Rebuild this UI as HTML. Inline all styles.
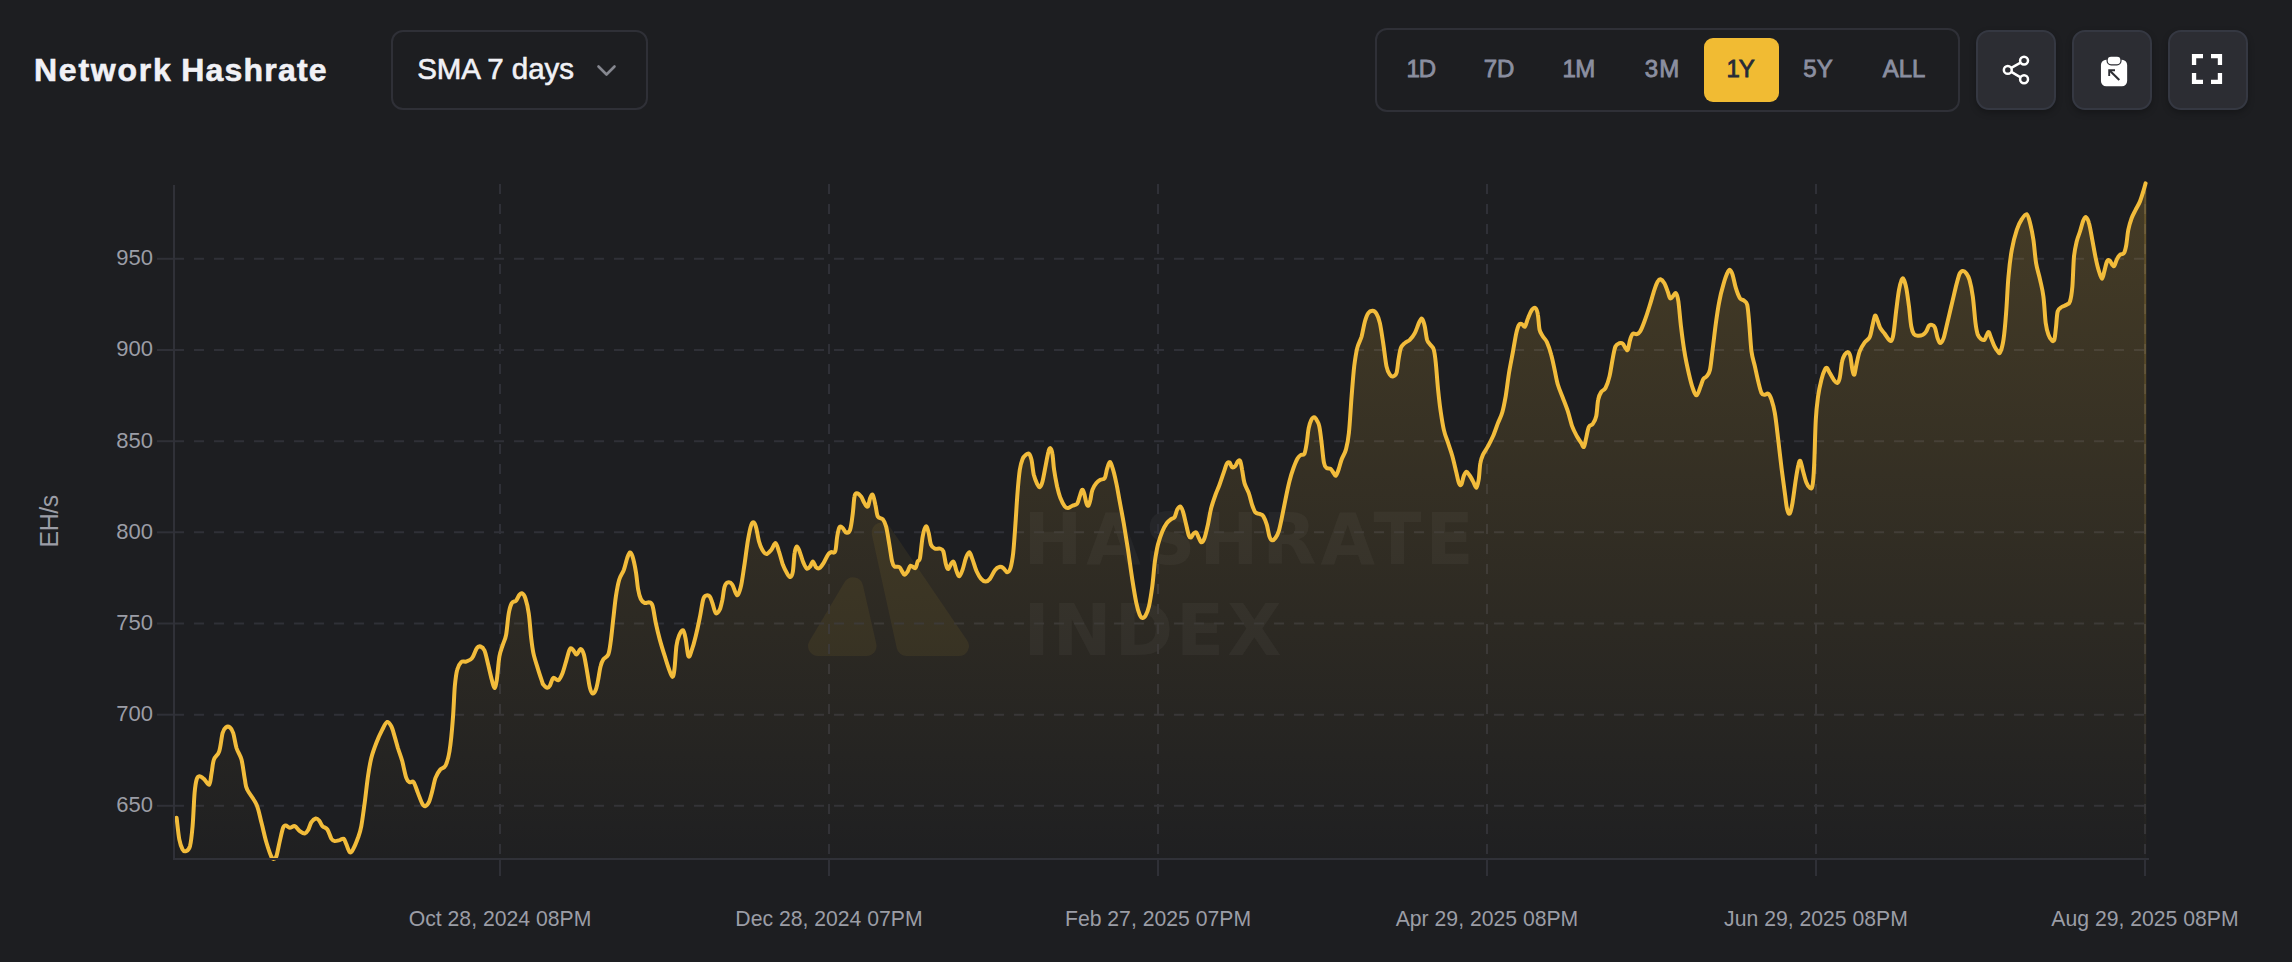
<!DOCTYPE html>
<html lang="en"><head><meta charset="utf-8"><title>Network Hashrate</title>
<style>
html,body{margin:0;padding:0;background:#1d1e21;}
body{width:2292px;height:962px;position:relative;overflow:hidden;font-family:"Liberation Sans",Arial,sans-serif;}
.chart{position:absolute;left:0;top:0;}
.chart text{font-family:"Liberation Sans",Arial,sans-serif;}
.tick{font-size:22px;fill:#9b9da6;}
.xl{font-size:21.2px;}
.ytitle{font-size:25px;letter-spacing:-0.5px;fill:#9b9da6;}
.title{position:absolute;left:34px;top:49px;font-size:32.5px;font-weight:700;color:#f1f1f6;line-height:44px;letter-spacing:1.1px;white-space:nowrap;}
.title{-webkit-text-stroke:0.6px #f1f1f6;font-size:32px;top:48.4px;}.w1{letter-spacing:1.75px;}.w2{letter-spacing:1.2px;position:absolute;left:147.3px;top:0;}
.select{position:absolute;left:391px;top:30px;width:253px;height:76px;border:2px solid #2f3037;border-radius:12px;}
.select span{position:absolute;left:24.2px;top:16.7px;font-size:29.5px;line-height:40px;color:#f1f1f6;letter-spacing:-0.08px;-webkit-text-stroke:0.6px #f1f1f6;white-space:nowrap;}
.select svg{position:absolute;left:198.5px;top:30px;}
.range{position:absolute;left:1375px;top:28px;width:581px;height:80px;border:2px solid #2f3037;border-radius:12px;}
.range div{position:absolute;top:8px;height:64px;line-height:62px;font-size:24px;color:#8b8fa0;text-align:center;white-space:nowrap;-webkit-text-stroke:0.8px #8b8fa0;}
.range div.on{background:#f1bb33;color:#262a38;border-radius:9px;-webkit-text-stroke:0.8px #262a38;}
.ib{position:absolute;top:30px;width:76px;height:76px;border:2px solid #353842;border-radius:13px;background:#2c2d33;box-shadow:0 3px 6px rgba(0,0,0,0.25);}
.ib svg{position:absolute;left:-2px;top:-2px;}
</style></head><body>
<svg class="chart" width="2292" height="962" viewBox="0 0 2292 962">
<defs>
<linearGradient id="g" x1="0" y1="185" x2="0" y2="859" gradientUnits="userSpaceOnUse">
<stop offset="0" stop-color="#f2bc3b" stop-opacity="0.19"/>
<stop offset="1" stop-color="#f2bc3b" stop-opacity="0.01"/>
</linearGradient>
<clipPath id="cp"><rect x="174" y="178" width="1976" height="683.5"/></clipPath>
</defs>
<g class="wm">
<path d="M844.6,582.1A10,10 0 0 1 862.9,585.0L876.3,643.8A10,10 0 0 1 866.6,656.0L818.1,656.0A10,10 0 0 1 809.5,640.9Z" fill="#f2bc3b" fill-opacity="0.065"/>
<path d="M871.8,534.5A10,10 0 0 1 889.8,526.8L967.2,640.4A10,10 0 0 1 959.0,656.0L906.4,656.0A10,10 0 0 1 896.7,648.1Z" fill="#f2bc3b" fill-opacity="0.065"/>
<text x="1023.5" y="564" font-size="70.4" font-weight="700" fill="#ffffff" fill-opacity="0.04" textLength="450" lengthAdjust="spacing" style="font-family:'DejaVu Sans',sans-serif">HASHRATE</text>
<text x="1023.5" y="655" font-size="70.4" font-weight="700" fill="#ffffff" fill-opacity="0.04" textLength="258" lengthAdjust="spacing" style="font-family:'DejaVu Sans',sans-serif">INDEX</text>
</g>
<line x1="157" y1="258.8" x2="174" y2="258.8" stroke="#2f3037" stroke-width="2"/>
<line x1="174" y1="258.8" x2="2146" y2="258.8" stroke="#2f3037" stroke-width="2" stroke-dasharray="10 10"/>
<text x="153" y="265.1" text-anchor="end" class="tick">950</text>
<line x1="157" y1="350" x2="174" y2="350" stroke="#2f3037" stroke-width="2"/>
<line x1="174" y1="350" x2="2146" y2="350" stroke="#2f3037" stroke-width="2" stroke-dasharray="10 10"/>
<text x="153" y="356.3" text-anchor="end" class="tick">900</text>
<line x1="157" y1="441.2" x2="174" y2="441.2" stroke="#2f3037" stroke-width="2"/>
<line x1="174" y1="441.2" x2="2146" y2="441.2" stroke="#2f3037" stroke-width="2" stroke-dasharray="10 10"/>
<text x="153" y="447.5" text-anchor="end" class="tick">850</text>
<line x1="157" y1="532.3" x2="174" y2="532.3" stroke="#2f3037" stroke-width="2"/>
<line x1="174" y1="532.3" x2="2146" y2="532.3" stroke="#2f3037" stroke-width="2" stroke-dasharray="10 10"/>
<text x="153" y="538.5999999999999" text-anchor="end" class="tick">800</text>
<line x1="157" y1="623.5" x2="174" y2="623.5" stroke="#2f3037" stroke-width="2"/>
<line x1="174" y1="623.5" x2="2146" y2="623.5" stroke="#2f3037" stroke-width="2" stroke-dasharray="10 10"/>
<text x="153" y="629.8" text-anchor="end" class="tick">750</text>
<line x1="157" y1="714.7" x2="174" y2="714.7" stroke="#2f3037" stroke-width="2"/>
<line x1="174" y1="714.7" x2="2146" y2="714.7" stroke="#2f3037" stroke-width="2" stroke-dasharray="10 10"/>
<text x="153" y="721.0" text-anchor="end" class="tick">700</text>
<line x1="157" y1="805.8" x2="174" y2="805.8" stroke="#2f3037" stroke-width="2"/>
<line x1="174" y1="805.8" x2="2146" y2="805.8" stroke="#2f3037" stroke-width="2" stroke-dasharray="10 10"/>
<text x="153" y="812.0999999999999" text-anchor="end" class="tick">650</text>
<line x1="500" y1="184" x2="500" y2="859" stroke="#2f3037" stroke-width="2" stroke-dasharray="10 10"/>
<line x1="500" y1="859" x2="500" y2="876" stroke="#2f3037" stroke-width="2"/>
<text x="500" y="926" text-anchor="middle" class="tick xl">Oct 28, 2024 08PM</text>
<line x1="829" y1="184" x2="829" y2="859" stroke="#2f3037" stroke-width="2" stroke-dasharray="10 10"/>
<line x1="829" y1="859" x2="829" y2="876" stroke="#2f3037" stroke-width="2"/>
<text x="829" y="926" text-anchor="middle" class="tick xl">Dec 28, 2024 07PM</text>
<line x1="1158" y1="184" x2="1158" y2="859" stroke="#2f3037" stroke-width="2" stroke-dasharray="10 10"/>
<line x1="1158" y1="859" x2="1158" y2="876" stroke="#2f3037" stroke-width="2"/>
<text x="1158" y="926" text-anchor="middle" class="tick xl">Feb 27, 2025 07PM</text>
<line x1="1487" y1="184" x2="1487" y2="859" stroke="#2f3037" stroke-width="2" stroke-dasharray="10 10"/>
<line x1="1487" y1="859" x2="1487" y2="876" stroke="#2f3037" stroke-width="2"/>
<text x="1487" y="926" text-anchor="middle" class="tick xl">Apr 29, 2025 08PM</text>
<line x1="1816" y1="184" x2="1816" y2="859" stroke="#2f3037" stroke-width="2" stroke-dasharray="10 10"/>
<line x1="1816" y1="859" x2="1816" y2="876" stroke="#2f3037" stroke-width="2"/>
<text x="1816" y="926" text-anchor="middle" class="tick xl">Jun 29, 2025 08PM</text>
<line x1="2145" y1="184" x2="2145" y2="859" stroke="#2f3037" stroke-width="2" stroke-dasharray="10 10"/>
<line x1="2145" y1="859" x2="2145" y2="876" stroke="#2f3037" stroke-width="2"/>
<text x="2145" y="926" text-anchor="middle" class="tick xl">Aug 29, 2025 08PM</text>
<path d="M176.6,817.8C177.1,821.4 178.3,834.2 179.3,839.4C180.3,844.7 181.5,847.5 182.6,849.4C183.7,851.4 184.7,851.6 186.0,851.1C187.2,850.5 188.8,850.3 190.0,846.1C191.1,841.9 191.8,835.0 192.6,826.1C193.4,817.3 193.9,800.6 194.6,792.9C195.3,785.1 195.8,782.3 196.6,779.6C197.4,776.8 198.0,776.3 199.3,776.2C200.5,776.1 202.3,777.5 203.9,778.9C205.6,780.3 208.0,785.5 209.3,784.6C210.5,783.6 210.8,777.1 211.6,772.9C212.4,768.7 212.6,763.2 213.9,759.6C215.2,756.0 217.8,755.7 219.2,751.3C220.7,746.8 221.5,737.0 222.6,733.0C223.7,729.0 224.7,728.3 225.9,727.4C227.1,726.5 228.7,726.5 229.9,727.4C231.1,728.3 232.1,729.6 233.2,733.0C234.3,736.4 235.2,743.5 236.5,748.0C237.9,752.4 240.1,754.3 241.5,759.6C242.9,764.9 243.9,774.6 244.9,779.6C245.8,784.6 245.2,785.4 247.2,789.5C249.1,793.7 254.1,799.0 256.5,804.5C258.9,810.1 259.8,816.4 261.5,822.8C263.2,829.2 264.8,837.1 266.5,842.8C268.2,848.5 270.2,854.4 271.5,857.0C272.8,859.7 273.3,858.8 274.1,858.7C275.0,858.5 275.5,858.9 276.5,856.0C277.4,853.1 278.7,845.8 279.8,841.1C280.9,836.4 282.1,830.4 283.1,827.8C284.1,825.2 284.7,825.5 285.8,825.5C286.9,825.5 288.3,827.7 289.8,827.8C291.3,827.9 293.1,825.6 294.8,826.1C296.4,826.7 298.1,829.9 299.8,831.1C301.4,832.3 303.4,833.6 304.8,833.5C306.1,833.3 307.0,832.0 308.1,830.1C309.2,828.2 310.1,824.1 311.4,822.1C312.7,820.2 314.5,818.8 315.7,818.5C317.0,818.2 318.0,819.2 319.1,820.5C320.2,821.8 321.0,824.6 322.4,826.1C323.8,827.6 325.9,827.4 327.4,829.5C328.9,831.6 330.2,836.8 331.4,838.8C332.6,840.7 333.3,840.9 334.7,841.1C336.1,841.3 338.2,840.5 339.7,840.1C341.2,839.7 342.6,838.1 343.7,838.8C344.8,839.5 345.4,842.2 346.4,844.4C347.4,846.6 348.6,851.3 349.7,852.1C350.8,852.9 351.6,851.8 353.0,849.4C354.4,847.0 356.6,841.7 358.0,837.8C359.4,833.9 360.2,832.0 361.3,826.1C362.4,820.3 363.5,811.2 364.7,802.8C365.8,794.5 366.9,783.7 368.0,776.2C369.1,768.7 369.9,763.5 371.3,757.9C372.7,752.4 374.5,747.7 376.3,743.0C378.1,738.3 380.5,733.2 382.3,729.7C384.1,726.2 385.5,722.6 387.0,722.0C388.5,721.5 390.0,723.9 391.3,726.3C392.6,728.7 393.5,732.7 394.6,736.3C395.7,739.9 396.7,743.8 397.9,748.0C399.2,752.1 400.9,756.3 402.3,761.3C403.6,766.3 405.0,774.4 406.3,777.9C407.5,781.4 408.4,781.5 409.6,782.2C410.8,782.9 412.2,780.4 413.6,782.2C415.0,784.0 416.5,789.3 417.9,792.9C419.3,796.4 421.0,801.3 422.2,803.5C423.4,805.7 424.1,806.4 425.2,806.2C426.3,806.0 427.7,804.7 428.9,802.2C430.0,799.7 431.1,795.3 432.2,791.2C433.3,787.2 434.2,781.5 435.5,777.9C436.9,774.3 438.5,771.6 440.2,769.6C441.9,767.5 444.0,768.6 445.5,765.6C447.1,762.5 448.3,758.9 449.5,751.3C450.7,743.6 452.0,730.5 452.8,719.7C453.7,708.9 454.1,694.7 454.8,686.4C455.6,678.1 456.1,673.8 457.2,669.8C458.2,665.7 459.7,663.5 461.2,662.1C462.7,660.7 464.3,662.1 466.2,661.5C468.0,660.8 470.4,660.4 472.1,658.1C473.9,655.9 475.4,650.1 476.8,648.2C478.2,646.2 479.2,646.1 480.5,646.5C481.7,646.9 483.2,647.7 484.5,650.5C485.7,653.3 486.6,658.2 487.8,663.1C489.0,668.0 490.7,675.6 491.8,679.8C492.9,683.9 493.6,688.1 494.4,688.1C495.3,688.1 495.9,685.0 496.8,679.8C497.6,674.5 498.4,662.3 499.4,656.5C500.4,650.7 501.7,648.4 502.8,644.8C503.9,641.2 505.1,640.1 506.1,634.9C507.1,629.6 507.8,618.5 508.8,613.2C509.7,608.0 510.5,605.4 511.7,603.2C513.0,601.1 514.8,602.0 516.1,600.6C517.3,599.2 518.4,596.1 519.4,594.9C520.4,593.7 521.1,592.7 522.1,593.3C523.1,593.8 524.3,594.9 525.4,598.3C526.5,601.6 527.8,606.9 528.7,613.2C529.7,619.6 530.3,629.9 531.0,636.5C531.8,643.2 532.3,647.9 533.4,653.1C534.5,658.4 536.3,663.4 537.7,668.1C539.1,672.8 541.1,678.7 542.0,681.4C543.0,684.2 542.4,683.4 543.3,684.5C544.2,685.6 546.2,687.7 547.3,687.8C548.4,688.0 549.0,687.2 550.0,685.5C551.0,683.8 551.9,678.7 553.3,677.9C554.7,677.0 556.7,681.0 558.3,680.2C559.9,679.4 561.2,676.3 562.6,672.9C564.0,669.4 565.4,663.6 566.6,659.6C567.8,655.6 568.8,650.5 570.0,648.9C571.1,647.4 572.2,649.3 573.3,650.2C574.4,651.2 575.4,654.8 576.6,654.6C577.8,654.3 579.4,648.9 580.6,648.9C581.8,648.9 582.8,650.6 583.9,654.6C585.0,658.6 586.3,667.3 587.3,672.9C588.3,678.4 589.0,684.4 589.9,687.8C590.8,691.3 591.6,693.2 592.6,693.5C593.6,693.8 595.0,691.8 595.9,689.5C596.8,687.2 597.5,683.4 598.2,679.5C599.0,675.6 599.7,669.5 600.6,666.2C601.4,662.9 602.0,661.5 603.2,659.6C604.5,657.6 607.0,657.3 608.2,654.6C609.4,651.8 609.7,648.7 610.5,642.9C611.4,637.1 612.3,627.4 613.2,619.6C614.1,611.9 614.9,603.0 615.9,596.4C616.9,589.7 617.9,584.2 619.2,579.7C620.5,575.3 622.5,573.3 623.9,569.7C625.2,566.1 626.2,561.0 627.2,558.1C628.2,555.2 629.0,552.7 629.9,552.4C630.7,552.2 631.5,553.3 632.5,556.4C633.5,559.6 634.9,565.9 635.8,571.4C636.8,576.9 637.3,585.1 638.2,589.7C639.0,594.3 639.7,596.8 640.8,599.0C641.9,601.2 643.4,602.5 644.8,603.0C646.2,603.6 647.9,601.9 649.2,602.3C650.4,602.8 651.4,602.2 652.5,605.7C653.6,609.1 654.6,617.3 655.8,623.0C657.0,628.6 658.3,634.1 659.8,639.6C661.3,645.1 663.2,651.2 664.8,656.2C666.3,661.2 667.8,666.1 669.1,669.5C670.4,673.0 671.6,676.9 672.4,676.9C673.3,676.9 673.8,674.6 674.4,669.5C675.1,664.4 675.7,651.9 676.4,646.3C677.2,640.6 678.0,638.3 679.1,635.6C680.2,632.9 682.0,629.6 683.1,630.3C684.2,631.0 684.9,635.3 685.8,639.6C686.6,643.9 687.5,654.3 688.4,656.2C689.4,658.2 690.2,654.6 691.4,651.2C692.6,647.9 694.4,641.8 695.7,636.3C697.1,630.7 698.5,624.1 699.7,618.0C701.0,611.9 702.1,603.4 703.1,599.7C704.1,596.0 704.6,596.2 705.7,595.7C706.8,595.1 708.6,595.1 709.7,596.4C710.8,597.6 711.4,600.2 712.4,603.0C713.4,605.8 714.5,611.9 715.7,613.0C716.9,614.1 718.6,611.9 719.7,609.7C720.8,607.4 721.5,603.6 722.4,599.7C723.2,595.8 723.7,589.3 724.7,586.4C725.6,583.5 726.7,582.7 728.0,582.4C729.3,582.1 731.1,582.9 732.3,584.7C733.6,586.5 734.7,591.4 735.7,593.0C736.6,594.7 737.1,596.1 738.0,594.7C738.9,593.3 740.2,590.0 741.3,584.7C742.4,579.4 743.5,570.6 744.7,563.1C745.8,555.6 746.9,546.2 748.0,539.8C749.1,533.4 750.3,527.7 751.3,524.8C752.3,521.9 753.1,521.9 754.0,522.5C754.8,523.1 755.5,525.0 756.3,528.2C757.1,531.3 758.0,537.9 759.0,541.5C760.0,545.1 761.1,547.7 762.3,549.8C763.5,551.9 764.8,554.1 766.3,554.1C767.8,554.1 769.7,551.6 771.3,549.8C772.8,548.0 774.3,542.8 775.6,543.1C776.9,543.4 777.7,547.8 778.9,551.4C780.2,555.0 781.6,561.1 782.9,564.8C784.3,568.4 785.7,571.0 786.9,573.1C788.1,575.1 789.3,577.3 790.2,577.1C791.2,576.8 792.2,575.4 792.9,571.4C793.6,567.4 793.9,557.3 794.6,553.1C795.2,548.9 796.1,546.7 796.9,546.5C797.7,546.2 798.5,548.7 799.6,551.4C800.7,554.2 802.3,560.2 803.6,563.1C804.8,566.0 805.8,568.2 806.9,568.7C808.0,569.3 809.2,567.6 810.2,566.4C811.2,565.2 811.9,561.3 812.9,561.4C813.9,561.6 815.1,566.3 816.2,567.4C817.3,568.5 818.3,568.8 819.5,568.1C820.8,567.4 822.1,565.3 823.5,563.1C824.9,560.9 826.6,556.6 827.9,554.8C829.1,552.9 830.0,552.7 831.2,552.1C832.4,551.6 834.2,554.0 835.2,551.4C836.2,548.8 836.5,540.5 837.2,536.5C837.9,532.4 838.6,528.5 839.5,527.2C840.4,525.8 841.7,527.3 842.8,528.2C843.9,529.0 844.9,532.2 846.2,532.5C847.4,532.8 849.0,533.0 850.1,529.8C851.3,526.6 852.1,518.7 852.8,513.2C853.5,507.6 853.8,499.9 854.5,496.6C855.1,493.2 855.7,493.2 856.8,493.2C857.9,493.2 859.9,494.9 861.1,496.6C862.4,498.2 863.3,501.5 864.5,503.2C865.6,504.9 866.8,507.4 867.8,506.5C868.7,505.7 869.3,500.2 870.1,498.2C870.9,496.3 871.9,493.8 872.8,494.9C873.7,496.0 874.6,501.3 875.4,504.9C876.3,508.5 876.6,514.1 877.8,516.5C879.0,518.9 881.4,517.5 882.8,519.2C884.1,520.8 885.0,522.2 886.1,526.5C887.2,530.8 888.4,539.0 889.4,544.8C890.4,550.6 891.2,557.8 892.1,561.4C892.9,565.0 893.2,565.5 894.4,566.4C895.6,567.4 898.1,566.2 899.4,567.1C900.7,567.9 901.2,570.1 902.1,571.4C902.9,572.7 903.4,574.7 904.4,574.7C905.3,574.7 906.7,572.9 907.7,571.4C908.7,569.9 909.1,566.3 910.4,565.7C911.7,565.2 914.2,568.8 915.4,568.1C916.6,567.4 916.9,563.1 917.7,561.4C918.5,559.7 919.2,562.2 920.0,558.0C920.8,553.8 921.7,541.6 922.7,536.4C923.7,531.1 925.0,526.9 926.0,526.4C927.0,525.8 927.8,530.0 928.7,533.0C929.5,536.1 929.9,542.1 931.0,544.7C932.0,547.3 933.5,548.0 935.0,548.7C936.5,549.3 938.6,548.2 940.0,548.7C941.4,549.1 942.3,548.7 943.3,551.3C944.3,554.0 945.1,561.7 946.0,564.6C946.8,567.6 947.3,569.2 948.3,569.0C949.2,568.7 950.7,564.1 951.6,563.0C952.6,561.9 953.1,560.9 953.9,562.3C954.8,563.7 955.7,569.0 956.6,571.3C957.5,573.6 958.3,576.6 959.3,576.3C960.3,576.0 961.5,572.7 962.6,569.6C963.7,566.6 964.8,560.9 965.9,558.0C967.0,555.1 968.1,552.0 969.3,552.3C970.4,552.6 971.4,556.5 972.6,559.6C973.8,562.8 975.2,568.1 976.6,571.3C978.0,574.4 979.4,576.9 980.9,578.6C982.4,580.3 984.1,581.5 985.6,581.6C987.1,581.7 988.3,580.8 989.9,578.9C991.4,577.1 993.3,572.3 994.9,570.3C996.4,568.3 997.8,567.3 999.2,567.0C1000.6,566.6 1001.9,567.1 1003.2,568.0C1004.5,568.8 1006.0,572.3 1007.2,572.3C1008.4,572.3 1009.5,571.2 1010.5,568.0C1011.5,564.7 1012.3,560.5 1013.2,553.0C1014.0,545.5 1014.8,533.0 1015.5,523.0C1016.2,513.1 1016.8,502.0 1017.5,493.1C1018.2,484.2 1019.0,475.5 1019.8,469.8C1020.7,464.2 1021.5,461.7 1022.5,459.2C1023.5,456.7 1024.7,455.7 1025.8,454.9C1026.9,454.0 1028.2,453.0 1029.2,453.9C1030.1,454.7 1030.7,456.3 1031.5,459.8C1032.3,463.3 1032.9,470.8 1033.8,474.8C1034.8,478.8 1036.1,481.7 1037.1,483.8C1038.1,485.8 1038.9,487.5 1039.8,487.1C1040.7,486.7 1041.5,485.2 1042.5,481.5C1043.5,477.7 1044.8,469.8 1045.8,464.8C1046.8,459.8 1047.7,454.3 1048.5,451.5C1049.2,448.8 1049.8,447.8 1050.4,448.2C1051.1,448.6 1051.8,450.2 1052.4,453.9C1053.1,457.5 1053.3,464.4 1054.1,469.8C1054.9,475.3 1056.1,481.7 1057.1,486.5C1058.2,491.2 1059.2,494.8 1060.4,498.1C1061.7,501.4 1063.5,504.8 1064.8,506.4C1066.0,508.1 1066.8,508.2 1068.1,508.1C1069.4,508.0 1070.9,506.5 1072.4,505.7C1073.9,505.0 1075.9,505.3 1077.1,503.8C1078.3,502.2 1078.9,498.8 1079.7,496.4C1080.6,494.1 1081.3,490.3 1082.1,489.8C1082.8,489.2 1083.3,490.9 1084.1,493.1C1084.8,495.3 1085.7,501.0 1086.4,503.1C1087.1,505.2 1087.7,506.3 1088.4,505.7C1089.1,505.2 1089.7,502.4 1090.4,499.8C1091.0,497.1 1091.4,492.6 1092.4,489.8C1093.4,487.0 1095.0,484.8 1096.4,483.1C1097.7,481.5 1099.0,480.6 1100.4,479.8C1101.8,479.0 1103.6,479.9 1104.7,478.1C1105.8,476.4 1106.2,471.8 1107.0,469.2C1107.9,466.5 1108.8,462.5 1109.7,462.2C1110.6,461.8 1111.2,463.7 1112.3,467.2C1113.5,470.7 1115.1,477.4 1116.3,483.1C1117.6,488.8 1118.4,494.8 1119.7,501.4C1120.9,508.1 1122.3,515.0 1123.7,523.0C1125.0,531.1 1126.5,540.2 1128.0,549.7C1129.4,559.1 1130.9,570.7 1132.3,579.6C1133.7,588.5 1135.1,597.1 1136.3,602.9C1137.5,608.7 1138.6,612.0 1139.6,614.5C1140.6,617.0 1141.3,617.7 1142.3,617.9C1143.3,618.0 1144.5,617.5 1145.6,615.5C1146.7,613.6 1147.8,611.1 1149.0,606.2C1150.1,601.3 1151.3,593.7 1152.3,586.3C1153.3,578.8 1154.0,568.2 1154.9,561.3C1155.9,554.4 1156.7,549.7 1157.9,544.7C1159.2,539.7 1160.8,535.0 1162.3,531.4C1163.8,527.8 1165.4,525.1 1166.9,523.0C1168.4,521.0 1170.0,520.1 1171.2,519.1C1172.5,518.1 1173.6,518.6 1174.6,517.1C1175.6,515.5 1176.3,511.5 1177.2,509.7C1178.2,508.0 1179.3,506.1 1180.2,506.4C1181.2,506.7 1181.9,508.4 1182.9,511.4C1183.9,514.5 1185.2,520.7 1186.2,524.7C1187.2,528.8 1188.1,533.6 1188.9,535.7C1189.7,537.8 1190.4,537.7 1191.2,537.4C1192.0,537.0 1192.7,534.5 1193.5,533.7C1194.4,532.9 1195.3,531.6 1196.2,532.4C1197.1,533.1 1198.0,536.4 1198.9,538.0C1199.8,539.7 1200.6,542.3 1201.5,542.3C1202.5,542.3 1203.5,541.0 1204.5,538.0C1205.6,535.1 1206.7,529.7 1207.9,524.7C1209.0,519.7 1209.9,513.1 1211.2,508.1C1212.5,503.1 1214.1,498.7 1215.5,494.8C1216.9,490.9 1218.2,488.4 1219.5,484.8C1220.8,481.2 1222.3,476.6 1223.5,473.1C1224.7,469.7 1225.8,465.6 1226.8,463.8C1227.8,462.1 1228.6,461.9 1229.5,462.5C1230.4,463.1 1231.1,466.6 1232.1,467.2C1233.1,467.7 1234.5,466.8 1235.5,465.8C1236.4,464.9 1237.0,462.3 1237.8,461.5C1238.6,460.7 1239.4,459.5 1240.1,460.8C1240.9,462.2 1241.4,466.1 1242.1,469.8C1242.9,473.5 1243.3,479.2 1244.5,483.1C1245.6,487.0 1247.5,489.5 1248.8,493.1C1250.1,496.7 1251.0,501.5 1252.1,504.8C1253.2,508.0 1254.1,510.8 1255.4,512.4C1256.8,514.0 1258.8,513.4 1260.1,514.1C1261.4,514.7 1262.3,514.6 1263.4,516.4C1264.5,518.2 1265.8,521.4 1266.8,524.7C1267.8,528.0 1268.5,533.7 1269.4,536.4C1270.3,539.0 1271.1,540.1 1272.1,540.3C1273.1,540.6 1274.3,539.5 1275.4,538.0C1276.5,536.5 1277.6,535.0 1278.7,531.4C1279.8,527.8 1281.0,521.7 1282.1,516.4C1283.2,511.1 1284.2,505.6 1285.4,499.8C1286.6,493.9 1288.1,486.7 1289.4,481.5C1290.7,476.2 1292.0,472.0 1293.4,468.2C1294.8,464.3 1296.4,460.4 1297.7,458.2C1299.0,456.0 1299.9,455.6 1301.0,454.9C1302.1,454.1 1303.4,455.8 1304.4,453.9C1305.3,451.9 1306.0,447.5 1306.7,443.2C1307.4,438.9 1307.9,432.1 1308.7,428.2C1309.5,424.4 1310.4,421.7 1311.3,419.9C1312.3,418.1 1313.4,417.1 1314.3,417.3C1315.3,417.4 1316.2,419.1 1317.0,420.6C1317.8,422.1 1318.5,422.6 1319.3,426.3C1320.1,430.0 1320.9,436.8 1321.6,442.9C1322.4,449.0 1323.1,458.7 1324.0,462.9C1324.8,467.0 1325.5,466.9 1326.6,467.9C1327.7,468.9 1329.4,467.9 1330.6,468.9C1331.8,469.8 1333.1,472.4 1333.9,473.5C1334.8,474.6 1335.2,476.2 1335.9,475.5C1336.7,474.8 1337.7,472.2 1338.6,469.5C1339.5,466.9 1340.4,462.9 1341.6,459.5C1342.8,456.2 1344.7,454.0 1345.9,449.6C1347.1,445.1 1348.0,441.8 1348.9,432.9C1349.9,424.1 1350.7,407.4 1351.6,396.3C1352.5,385.2 1353.3,374.4 1354.2,366.4C1355.2,358.4 1356.0,353.1 1357.2,348.1C1358.5,343.1 1360.3,340.9 1361.6,336.5C1362.8,332.0 1363.8,325.4 1364.9,321.5C1366.0,317.6 1366.9,314.9 1368.2,313.2C1369.5,311.4 1371.2,310.7 1372.5,310.8C1373.9,310.9 1375.3,311.8 1376.5,313.8C1377.8,315.9 1378.8,318.3 1379.9,323.1C1381.0,328.0 1382.1,335.9 1383.2,343.1C1384.3,350.3 1385.4,361.1 1386.5,366.4C1387.6,371.7 1388.7,373.0 1389.9,374.7C1391.0,376.4 1392.1,376.7 1393.2,376.4C1394.3,376.1 1395.6,375.8 1396.5,373.0C1397.4,370.3 1397.8,363.9 1398.5,359.7C1399.2,355.6 1399.8,350.9 1400.8,348.1C1401.9,345.3 1403.3,344.5 1404.8,343.1C1406.3,341.7 1408.2,341.4 1409.8,339.8C1411.5,338.1 1413.3,336.0 1414.8,333.1C1416.4,330.2 1417.9,324.9 1419.1,322.5C1420.4,320.1 1421.2,318.2 1422.1,318.8C1423.1,319.5 1424.0,323.0 1424.8,326.5C1425.6,330.0 1426.2,336.7 1427.1,339.8C1428.1,342.8 1429.3,343.1 1430.4,344.8C1431.6,346.4 1432.9,346.7 1433.8,349.8C1434.7,352.8 1435.1,356.4 1435.8,363.1C1436.5,369.7 1437.3,381.9 1438.1,389.7C1438.9,397.4 1439.5,403.0 1440.4,409.6C1441.4,416.3 1442.5,424.1 1443.8,429.6C1445.0,435.1 1446.6,438.5 1448.1,442.9C1449.5,447.3 1451.0,451.2 1452.4,456.2C1453.8,461.2 1455.3,468.3 1456.4,472.8C1457.5,477.4 1458.2,481.6 1459.1,483.5C1459.9,485.4 1460.6,485.7 1461.4,484.5C1462.2,483.3 1462.9,478.3 1463.7,476.2C1464.6,474.1 1465.4,472.0 1466.4,471.8C1467.4,471.7 1468.6,474.0 1469.7,475.5C1470.8,477.1 1471.9,479.1 1473.0,481.2C1474.2,483.2 1475.4,488.1 1476.4,487.8C1477.3,487.5 1478.0,483.7 1478.7,479.5C1479.4,475.3 1479.6,467.0 1480.4,462.9C1481.1,458.7 1481.8,457.3 1483.0,454.6C1484.3,451.8 1486.4,449.3 1488.0,446.2C1489.7,443.2 1491.3,440.1 1493.0,436.3C1494.7,432.4 1496.5,426.9 1498.0,422.9C1499.6,419.0 1501.1,416.7 1502.3,412.3C1503.6,407.9 1504.5,402.9 1505.7,396.3C1506.8,389.8 1507.8,380.5 1509.0,373.0C1510.2,365.6 1511.8,358.1 1513.0,351.4C1514.2,344.8 1515.3,337.6 1516.3,333.1C1517.3,328.7 1518.0,326.3 1519.0,324.8C1519.9,323.3 1521.0,323.9 1522.0,324.1C1523.0,324.4 1524.0,327.5 1525.0,326.5C1526.0,325.5 1526.8,320.9 1528.0,318.2C1529.1,315.4 1530.7,311.5 1531.9,309.8C1533.2,308.2 1534.6,307.3 1535.6,308.2C1536.6,309.0 1537.3,311.2 1537.9,314.8C1538.6,318.4 1538.8,326.2 1539.6,329.8C1540.4,333.4 1541.7,334.4 1542.9,336.5C1544.1,338.5 1545.5,339.1 1546.9,342.1C1548.3,345.2 1550.0,350.1 1551.2,354.8C1552.5,359.4 1553.5,364.7 1554.6,369.7C1555.7,374.7 1556.5,380.0 1557.9,384.7C1559.3,389.4 1561.2,393.6 1562.9,398.0C1564.6,402.4 1566.3,406.6 1567.9,411.3C1569.4,416.0 1570.7,422.1 1572.2,426.3C1573.7,430.4 1575.4,433.5 1576.9,436.3C1578.4,439.0 1580.0,441.1 1581.2,442.9C1582.4,444.7 1583.0,447.7 1583.9,446.9C1584.7,446.1 1585.4,441.2 1586.2,437.9C1587.0,434.6 1587.7,429.3 1588.9,426.9C1590.0,424.6 1591.6,425.7 1592.8,423.9C1594.1,422.2 1595.3,420.3 1596.2,416.3C1597.1,412.2 1597.3,403.7 1598.2,399.7C1599.0,395.6 1599.9,393.9 1601.2,392.0C1602.4,390.1 1604.1,390.6 1605.5,388.0C1606.9,385.4 1608.3,381.4 1609.5,376.4C1610.7,371.4 1611.8,363.1 1612.8,358.1C1613.8,353.1 1614.4,348.9 1615.5,346.4C1616.6,343.9 1618.2,343.6 1619.5,343.1C1620.7,342.7 1621.8,342.9 1622.8,343.8C1623.8,344.6 1624.6,347.1 1625.5,348.1C1626.3,349.1 1627.0,351.1 1627.8,349.8C1628.6,348.4 1629.3,342.4 1630.1,339.8C1630.9,337.1 1631.7,334.7 1632.8,333.8C1633.9,332.8 1635.6,334.5 1636.8,334.1C1638.0,333.7 1638.8,333.6 1640.1,331.5C1641.4,329.4 1642.9,325.6 1644.4,321.5C1646.0,317.3 1647.8,311.8 1649.4,306.5C1651.1,301.2 1653.0,294.0 1654.4,289.9C1655.8,285.7 1656.7,283.3 1657.7,281.6C1658.7,279.8 1659.3,279.0 1660.4,279.2C1661.5,279.5 1663.2,281.2 1664.4,283.2C1665.6,285.3 1666.8,289.0 1667.7,291.5C1668.7,294.0 1669.2,297.4 1670.0,298.2C1670.9,299.0 1671.7,297.4 1672.7,296.5C1673.7,295.7 1675.1,292.4 1676.0,293.2C1677.0,294.0 1677.5,296.0 1678.4,301.5C1679.2,307.1 1680.0,318.2 1681.0,326.5C1682.0,334.8 1683.1,343.7 1684.4,351.4C1685.6,359.2 1687.3,366.9 1688.7,373.0C1690.1,379.1 1691.3,384.3 1692.7,388.0C1694.0,391.7 1695.3,395.6 1696.7,395.3C1698.0,395.1 1699.5,389.1 1700.6,386.3C1701.7,383.6 1702.3,380.7 1703.3,379.0C1704.3,377.4 1705.5,377.9 1706.6,376.4C1707.7,374.8 1709.0,374.1 1710.0,369.7C1710.9,365.3 1711.6,357.5 1712.6,349.7C1713.6,342.0 1714.8,331.2 1715.9,323.1C1717.0,315.1 1718.0,307.9 1719.3,301.5C1720.5,295.1 1721.9,289.6 1723.3,284.9C1724.6,280.2 1726.1,275.7 1727.3,273.2C1728.4,270.7 1729.0,269.6 1729.9,269.9C1730.8,270.2 1731.6,271.8 1732.6,274.9C1733.6,277.9 1734.7,284.3 1735.9,288.2C1737.1,292.1 1738.6,296.1 1739.9,298.2C1741.2,300.2 1742.7,299.4 1743.9,300.5C1745.1,301.6 1746.3,301.1 1747.2,304.8C1748.1,308.6 1748.5,315.4 1749.2,323.1C1749.9,330.9 1750.6,344.2 1751.5,351.4C1752.5,358.6 1753.8,361.4 1754.9,366.4C1756.0,371.4 1757.1,376.9 1758.2,381.3C1759.3,385.8 1760.4,390.8 1761.5,393.0C1762.6,395.2 1763.7,394.5 1764.9,394.7C1766.0,394.8 1767.1,392.8 1768.2,393.7C1769.3,394.5 1770.4,396.4 1771.5,399.6C1772.6,402.9 1773.7,406.3 1774.8,412.9C1776.0,419.6 1777.1,430.4 1778.2,439.6C1779.3,448.7 1780.4,459.0 1781.5,467.8C1782.6,476.7 1783.9,485.9 1784.8,492.8C1785.8,499.7 1786.3,506.0 1787.2,509.4C1788.0,512.9 1788.9,514.5 1789.8,513.4C1790.7,512.3 1791.5,508.4 1792.5,502.8C1793.5,497.1 1794.8,485.9 1795.8,479.5C1796.8,473.1 1797.7,467.6 1798.5,464.5C1799.2,461.5 1799.7,460.1 1800.5,461.2C1801.2,462.3 1802.1,467.6 1803.1,471.2C1804.1,474.8 1805.3,480.0 1806.5,482.8C1807.6,485.6 1808.8,487.2 1809.8,487.8C1810.8,488.4 1811.7,489.7 1812.4,486.1C1813.2,482.5 1813.6,477.3 1814.1,466.2C1814.7,455.1 1815.1,431.2 1815.8,419.6C1816.4,408.0 1817.2,403.0 1818.1,396.3C1819.0,389.7 1820.3,384.1 1821.4,379.7C1822.5,375.2 1823.8,371.6 1824.8,369.7C1825.7,367.8 1826.3,367.5 1827.1,368.0C1827.9,368.6 1828.6,371.1 1829.8,373.0C1830.9,375.0 1832.5,378.0 1833.7,379.7C1835.0,381.3 1836.1,383.3 1837.1,383.0C1838.1,382.7 1838.9,381.6 1839.7,378.0C1840.6,374.4 1841.2,365.3 1842.1,361.4C1842.9,357.5 1843.7,356.3 1844.7,354.7C1845.7,353.2 1847.1,351.8 1848.1,352.1C1849.0,352.3 1849.7,353.5 1850.4,356.4C1851.1,359.3 1851.7,366.7 1852.4,369.7C1853.0,372.8 1853.7,375.5 1854.4,374.7C1855.0,373.9 1855.5,368.6 1856.4,364.7C1857.3,360.8 1858.3,355.1 1859.7,351.4C1861.1,347.7 1863.0,344.8 1864.7,342.4C1866.4,340.0 1868.4,339.8 1869.7,337.1C1871.0,334.4 1871.5,330.0 1872.3,326.5C1873.2,322.9 1874.2,316.9 1875.0,315.8C1875.8,314.7 1876.5,317.7 1877.3,319.8C1878.2,321.9 1879.1,325.8 1880.3,328.1C1881.6,330.4 1883.2,331.8 1884.7,333.8C1886.1,335.7 1887.8,338.7 1889.0,339.8C1890.1,340.9 1890.9,341.5 1891.6,340.4C1892.4,339.3 1892.9,338.2 1893.6,333.1C1894.4,328.0 1895.4,317.0 1896.3,309.8C1897.2,302.6 1898.1,294.9 1899.0,289.9C1899.9,284.9 1900.9,281.7 1901.6,279.9C1902.4,278.1 1902.9,277.8 1903.6,279.2C1904.4,280.6 1905.4,283.7 1906.3,288.2C1907.2,292.7 1908.1,300.1 1909.0,306.5C1909.8,312.9 1910.4,321.9 1911.3,326.5C1912.1,331.1 1912.8,332.6 1913.9,334.1C1915.1,335.7 1916.4,335.7 1917.9,335.8C1919.4,335.9 1921.5,335.5 1922.9,334.8C1924.3,334.0 1925.3,332.9 1926.3,331.4C1927.3,329.9 1928.0,326.9 1928.9,325.8C1929.8,324.7 1930.6,324.5 1931.6,324.8C1932.6,325.1 1933.9,325.2 1934.9,327.5C1935.9,329.7 1936.7,335.5 1937.6,338.1C1938.5,340.7 1939.2,343.1 1940.2,343.1C1941.2,343.1 1942.5,341.1 1943.6,338.1C1944.7,335.0 1945.6,330.1 1946.9,324.8C1948.2,319.5 1949.8,312.6 1951.2,306.5C1952.7,300.4 1954.2,293.6 1955.5,288.2C1956.9,282.8 1958.3,276.8 1959.5,273.9C1960.8,271.0 1961.8,271.0 1962.9,270.9C1964.0,270.8 1965.1,271.7 1966.2,273.2C1967.3,274.7 1968.4,276.0 1969.5,279.9C1970.6,283.8 1971.8,289.3 1972.8,296.5C1973.8,303.7 1974.7,316.8 1975.5,323.1C1976.3,329.5 1976.9,332.1 1977.8,334.8C1978.8,337.4 1980.1,338.3 1981.2,339.1C1982.3,339.9 1983.5,340.5 1984.5,339.8C1985.4,339.0 1986.1,336.0 1986.8,334.8C1987.5,333.5 1988.1,331.6 1988.8,332.1C1989.5,332.7 1990.2,335.7 1991.1,338.1C1992.1,340.5 1993.4,344.2 1994.5,346.4C1995.6,348.6 1996.9,350.4 1997.8,351.4C1998.7,352.4 1999.2,354.4 2000.1,352.4C2001.1,350.4 2002.5,346.2 2003.5,339.6C2004.5,333.1 2005.3,323.6 2006.1,313.0C2007.0,302.5 2007.5,287.0 2008.5,276.4C2009.4,265.9 2010.4,257.6 2011.8,249.8C2013.2,242.1 2015.1,235.0 2016.8,229.9C2018.5,224.8 2020.1,221.8 2021.8,219.2C2023.4,216.6 2025.4,213.6 2026.8,214.2C2028.2,214.9 2029.0,218.9 2030.1,223.2C2031.2,227.5 2032.4,233.2 2033.4,239.8C2034.4,246.5 2035.0,256.5 2036.1,263.1C2037.2,269.8 2038.9,274.2 2040.1,279.8C2041.3,285.3 2042.5,289.2 2043.4,296.4C2044.4,303.6 2044.9,316.6 2045.7,323.0C2046.6,329.4 2047.4,331.8 2048.4,334.7C2049.4,337.5 2050.7,339.5 2051.7,340.3C2052.7,341.1 2053.7,342.0 2054.4,339.6C2055.1,337.3 2055.5,331.0 2056.1,326.3C2056.6,321.6 2056.8,314.6 2057.7,311.4C2058.7,308.1 2060.2,308.1 2061.7,307.0C2063.2,305.9 2065.3,305.7 2066.7,304.7C2068.1,303.8 2069.1,304.4 2070.0,301.4C2071.0,298.3 2071.7,293.9 2072.4,286.4C2073.0,278.9 2073.3,264.0 2074.0,256.5C2074.8,249.0 2075.7,245.7 2076.7,241.5C2077.7,237.3 2078.9,235.0 2080.0,231.5C2081.1,228.0 2082.3,222.9 2083.3,220.5C2084.3,218.2 2085.1,216.8 2086.0,217.2C2087.0,217.7 2088.0,219.4 2089.0,223.2C2090.1,227.0 2091.2,234.0 2092.3,239.8C2093.4,245.7 2094.6,252.9 2095.7,258.1C2096.8,263.4 2097.9,268.0 2099.0,271.4C2100.0,274.9 2101.1,278.8 2102.0,278.8C2102.9,278.8 2103.5,274.3 2104.3,271.4C2105.1,268.6 2106.1,263.3 2107.0,261.5C2107.9,259.6 2108.7,259.9 2109.6,260.5C2110.5,261.0 2111.5,263.9 2112.3,264.8C2113.1,265.7 2113.5,266.7 2114.3,265.8C2115.1,264.8 2116.0,261.0 2117.0,259.1C2117.9,257.3 2118.8,255.8 2120.0,254.8C2121.1,253.8 2122.9,254.8 2123.9,253.1C2125.0,251.5 2125.6,248.7 2126.3,244.8C2127.0,240.9 2127.4,234.3 2128.3,229.9C2129.2,225.4 2130.4,221.5 2131.6,218.2C2132.8,214.9 2134.2,212.7 2135.6,209.9C2137.0,207.1 2138.6,204.6 2139.9,201.6C2141.2,198.5 2142.3,194.7 2143.2,191.6C2144.2,188.6 2145.2,184.7 2145.6,183.3L2146.2,183.3L2146.2,859L176.6,859Z" fill="url(#g)" clip-path="url(#cp)"/>
<rect x="2144.2" y="187" width="2" height="672" fill="url(#g)"/>
<path d="M176.6,817.8C177.1,821.4 178.3,834.2 179.3,839.4C180.3,844.7 181.5,847.5 182.6,849.4C183.7,851.4 184.7,851.6 186.0,851.1C187.2,850.5 188.8,850.3 190.0,846.1C191.1,841.9 191.8,835.0 192.6,826.1C193.4,817.3 193.9,800.6 194.6,792.9C195.3,785.1 195.8,782.3 196.6,779.6C197.4,776.8 198.0,776.3 199.3,776.2C200.5,776.1 202.3,777.5 203.9,778.9C205.6,780.3 208.0,785.5 209.3,784.6C210.5,783.6 210.8,777.1 211.6,772.9C212.4,768.7 212.6,763.2 213.9,759.6C215.2,756.0 217.8,755.7 219.2,751.3C220.7,746.8 221.5,737.0 222.6,733.0C223.7,729.0 224.7,728.3 225.9,727.4C227.1,726.5 228.7,726.5 229.9,727.4C231.1,728.3 232.1,729.6 233.2,733.0C234.3,736.4 235.2,743.5 236.5,748.0C237.9,752.4 240.1,754.3 241.5,759.6C242.9,764.9 243.9,774.6 244.9,779.6C245.8,784.6 245.2,785.4 247.2,789.5C249.1,793.7 254.1,799.0 256.5,804.5C258.9,810.1 259.8,816.4 261.5,822.8C263.2,829.2 264.8,837.1 266.5,842.8C268.2,848.5 270.2,854.4 271.5,857.0C272.8,859.7 273.3,858.8 274.1,858.7C275.0,858.5 275.5,858.9 276.5,856.0C277.4,853.1 278.7,845.8 279.8,841.1C280.9,836.4 282.1,830.4 283.1,827.8C284.1,825.2 284.7,825.5 285.8,825.5C286.9,825.5 288.3,827.7 289.8,827.8C291.3,827.9 293.1,825.6 294.8,826.1C296.4,826.7 298.1,829.9 299.8,831.1C301.4,832.3 303.4,833.6 304.8,833.5C306.1,833.3 307.0,832.0 308.1,830.1C309.2,828.2 310.1,824.1 311.4,822.1C312.7,820.2 314.5,818.8 315.7,818.5C317.0,818.2 318.0,819.2 319.1,820.5C320.2,821.8 321.0,824.6 322.4,826.1C323.8,827.6 325.9,827.4 327.4,829.5C328.9,831.6 330.2,836.8 331.4,838.8C332.6,840.7 333.3,840.9 334.7,841.1C336.1,841.3 338.2,840.5 339.7,840.1C341.2,839.7 342.6,838.1 343.7,838.8C344.8,839.5 345.4,842.2 346.4,844.4C347.4,846.6 348.6,851.3 349.7,852.1C350.8,852.9 351.6,851.8 353.0,849.4C354.4,847.0 356.6,841.7 358.0,837.8C359.4,833.9 360.2,832.0 361.3,826.1C362.4,820.3 363.5,811.2 364.7,802.8C365.8,794.5 366.9,783.7 368.0,776.2C369.1,768.7 369.9,763.5 371.3,757.9C372.7,752.4 374.5,747.7 376.3,743.0C378.1,738.3 380.5,733.2 382.3,729.7C384.1,726.2 385.5,722.6 387.0,722.0C388.5,721.5 390.0,723.9 391.3,726.3C392.6,728.7 393.5,732.7 394.6,736.3C395.7,739.9 396.7,743.8 397.9,748.0C399.2,752.1 400.9,756.3 402.3,761.3C403.6,766.3 405.0,774.4 406.3,777.9C407.5,781.4 408.4,781.5 409.6,782.2C410.8,782.9 412.2,780.4 413.6,782.2C415.0,784.0 416.5,789.3 417.9,792.9C419.3,796.4 421.0,801.3 422.2,803.5C423.4,805.7 424.1,806.4 425.2,806.2C426.3,806.0 427.7,804.7 428.9,802.2C430.0,799.7 431.1,795.3 432.2,791.2C433.3,787.2 434.2,781.5 435.5,777.9C436.9,774.3 438.5,771.6 440.2,769.6C441.9,767.5 444.0,768.6 445.5,765.6C447.1,762.5 448.3,758.9 449.5,751.3C450.7,743.6 452.0,730.5 452.8,719.7C453.7,708.9 454.1,694.7 454.8,686.4C455.6,678.1 456.1,673.8 457.2,669.8C458.2,665.7 459.7,663.5 461.2,662.1C462.7,660.7 464.3,662.1 466.2,661.5C468.0,660.8 470.4,660.4 472.1,658.1C473.9,655.9 475.4,650.1 476.8,648.2C478.2,646.2 479.2,646.1 480.5,646.5C481.7,646.9 483.2,647.7 484.5,650.5C485.7,653.3 486.6,658.2 487.8,663.1C489.0,668.0 490.7,675.6 491.8,679.8C492.9,683.9 493.6,688.1 494.4,688.1C495.3,688.1 495.9,685.0 496.8,679.8C497.6,674.5 498.4,662.3 499.4,656.5C500.4,650.7 501.7,648.4 502.8,644.8C503.9,641.2 505.1,640.1 506.1,634.9C507.1,629.6 507.8,618.5 508.8,613.2C509.7,608.0 510.5,605.4 511.7,603.2C513.0,601.1 514.8,602.0 516.1,600.6C517.3,599.2 518.4,596.1 519.4,594.9C520.4,593.7 521.1,592.7 522.1,593.3C523.1,593.8 524.3,594.9 525.4,598.3C526.5,601.6 527.8,606.9 528.7,613.2C529.7,619.6 530.3,629.9 531.0,636.5C531.8,643.2 532.3,647.9 533.4,653.1C534.5,658.4 536.3,663.4 537.7,668.1C539.1,672.8 541.1,678.7 542.0,681.4C543.0,684.2 542.4,683.4 543.3,684.5C544.2,685.6 546.2,687.7 547.3,687.8C548.4,688.0 549.0,687.2 550.0,685.5C551.0,683.8 551.9,678.7 553.3,677.9C554.7,677.0 556.7,681.0 558.3,680.2C559.9,679.4 561.2,676.3 562.6,672.9C564.0,669.4 565.4,663.6 566.6,659.6C567.8,655.6 568.8,650.5 570.0,648.9C571.1,647.4 572.2,649.3 573.3,650.2C574.4,651.2 575.4,654.8 576.6,654.6C577.8,654.3 579.4,648.9 580.6,648.9C581.8,648.9 582.8,650.6 583.9,654.6C585.0,658.6 586.3,667.3 587.3,672.9C588.3,678.4 589.0,684.4 589.9,687.8C590.8,691.3 591.6,693.2 592.6,693.5C593.6,693.8 595.0,691.8 595.9,689.5C596.8,687.2 597.5,683.4 598.2,679.5C599.0,675.6 599.7,669.5 600.6,666.2C601.4,662.9 602.0,661.5 603.2,659.6C604.5,657.6 607.0,657.3 608.2,654.6C609.4,651.8 609.7,648.7 610.5,642.9C611.4,637.1 612.3,627.4 613.2,619.6C614.1,611.9 614.9,603.0 615.9,596.4C616.9,589.7 617.9,584.2 619.2,579.7C620.5,575.3 622.5,573.3 623.9,569.7C625.2,566.1 626.2,561.0 627.2,558.1C628.2,555.2 629.0,552.7 629.9,552.4C630.7,552.2 631.5,553.3 632.5,556.4C633.5,559.6 634.9,565.9 635.8,571.4C636.8,576.9 637.3,585.1 638.2,589.7C639.0,594.3 639.7,596.8 640.8,599.0C641.9,601.2 643.4,602.5 644.8,603.0C646.2,603.6 647.9,601.9 649.2,602.3C650.4,602.8 651.4,602.2 652.5,605.7C653.6,609.1 654.6,617.3 655.8,623.0C657.0,628.6 658.3,634.1 659.8,639.6C661.3,645.1 663.2,651.2 664.8,656.2C666.3,661.2 667.8,666.1 669.1,669.5C670.4,673.0 671.6,676.9 672.4,676.9C673.3,676.9 673.8,674.6 674.4,669.5C675.1,664.4 675.7,651.9 676.4,646.3C677.2,640.6 678.0,638.3 679.1,635.6C680.2,632.9 682.0,629.6 683.1,630.3C684.2,631.0 684.9,635.3 685.8,639.6C686.6,643.9 687.5,654.3 688.4,656.2C689.4,658.2 690.2,654.6 691.4,651.2C692.6,647.9 694.4,641.8 695.7,636.3C697.1,630.7 698.5,624.1 699.7,618.0C701.0,611.9 702.1,603.4 703.1,599.7C704.1,596.0 704.6,596.2 705.7,595.7C706.8,595.1 708.6,595.1 709.7,596.4C710.8,597.6 711.4,600.2 712.4,603.0C713.4,605.8 714.5,611.9 715.7,613.0C716.9,614.1 718.6,611.9 719.7,609.7C720.8,607.4 721.5,603.6 722.4,599.7C723.2,595.8 723.7,589.3 724.7,586.4C725.6,583.5 726.7,582.7 728.0,582.4C729.3,582.1 731.1,582.9 732.3,584.7C733.6,586.5 734.7,591.4 735.7,593.0C736.6,594.7 737.1,596.1 738.0,594.7C738.9,593.3 740.2,590.0 741.3,584.7C742.4,579.4 743.5,570.6 744.7,563.1C745.8,555.6 746.9,546.2 748.0,539.8C749.1,533.4 750.3,527.7 751.3,524.8C752.3,521.9 753.1,521.9 754.0,522.5C754.8,523.1 755.5,525.0 756.3,528.2C757.1,531.3 758.0,537.9 759.0,541.5C760.0,545.1 761.1,547.7 762.3,549.8C763.5,551.9 764.8,554.1 766.3,554.1C767.8,554.1 769.7,551.6 771.3,549.8C772.8,548.0 774.3,542.8 775.6,543.1C776.9,543.4 777.7,547.8 778.9,551.4C780.2,555.0 781.6,561.1 782.9,564.8C784.3,568.4 785.7,571.0 786.9,573.1C788.1,575.1 789.3,577.3 790.2,577.1C791.2,576.8 792.2,575.4 792.9,571.4C793.6,567.4 793.9,557.3 794.6,553.1C795.2,548.9 796.1,546.7 796.9,546.5C797.7,546.2 798.5,548.7 799.6,551.4C800.7,554.2 802.3,560.2 803.6,563.1C804.8,566.0 805.8,568.2 806.9,568.7C808.0,569.3 809.2,567.6 810.2,566.4C811.2,565.2 811.9,561.3 812.9,561.4C813.9,561.6 815.1,566.3 816.2,567.4C817.3,568.5 818.3,568.8 819.5,568.1C820.8,567.4 822.1,565.3 823.5,563.1C824.9,560.9 826.6,556.6 827.9,554.8C829.1,552.9 830.0,552.7 831.2,552.1C832.4,551.6 834.2,554.0 835.2,551.4C836.2,548.8 836.5,540.5 837.2,536.5C837.9,532.4 838.6,528.5 839.5,527.2C840.4,525.8 841.7,527.3 842.8,528.2C843.9,529.0 844.9,532.2 846.2,532.5C847.4,532.8 849.0,533.0 850.1,529.8C851.3,526.6 852.1,518.7 852.8,513.2C853.5,507.6 853.8,499.9 854.5,496.6C855.1,493.2 855.7,493.2 856.8,493.2C857.9,493.2 859.9,494.9 861.1,496.6C862.4,498.2 863.3,501.5 864.5,503.2C865.6,504.9 866.8,507.4 867.8,506.5C868.7,505.7 869.3,500.2 870.1,498.2C870.9,496.3 871.9,493.8 872.8,494.9C873.7,496.0 874.6,501.3 875.4,504.9C876.3,508.5 876.6,514.1 877.8,516.5C879.0,518.9 881.4,517.5 882.8,519.2C884.1,520.8 885.0,522.2 886.1,526.5C887.2,530.8 888.4,539.0 889.4,544.8C890.4,550.6 891.2,557.8 892.1,561.4C892.9,565.0 893.2,565.5 894.4,566.4C895.6,567.4 898.1,566.2 899.4,567.1C900.7,567.9 901.2,570.1 902.1,571.4C902.9,572.7 903.4,574.7 904.4,574.7C905.3,574.7 906.7,572.9 907.7,571.4C908.7,569.9 909.1,566.3 910.4,565.7C911.7,565.2 914.2,568.8 915.4,568.1C916.6,567.4 916.9,563.1 917.7,561.4C918.5,559.7 919.2,562.2 920.0,558.0C920.8,553.8 921.7,541.6 922.7,536.4C923.7,531.1 925.0,526.9 926.0,526.4C927.0,525.8 927.8,530.0 928.7,533.0C929.5,536.1 929.9,542.1 931.0,544.7C932.0,547.3 933.5,548.0 935.0,548.7C936.5,549.3 938.6,548.2 940.0,548.7C941.4,549.1 942.3,548.7 943.3,551.3C944.3,554.0 945.1,561.7 946.0,564.6C946.8,567.6 947.3,569.2 948.3,569.0C949.2,568.7 950.7,564.1 951.6,563.0C952.6,561.9 953.1,560.9 953.9,562.3C954.8,563.7 955.7,569.0 956.6,571.3C957.5,573.6 958.3,576.6 959.3,576.3C960.3,576.0 961.5,572.7 962.6,569.6C963.7,566.6 964.8,560.9 965.9,558.0C967.0,555.1 968.1,552.0 969.3,552.3C970.4,552.6 971.4,556.5 972.6,559.6C973.8,562.8 975.2,568.1 976.6,571.3C978.0,574.4 979.4,576.9 980.9,578.6C982.4,580.3 984.1,581.5 985.6,581.6C987.1,581.7 988.3,580.8 989.9,578.9C991.4,577.1 993.3,572.3 994.9,570.3C996.4,568.3 997.8,567.3 999.2,567.0C1000.6,566.6 1001.9,567.1 1003.2,568.0C1004.5,568.8 1006.0,572.3 1007.2,572.3C1008.4,572.3 1009.5,571.2 1010.5,568.0C1011.5,564.7 1012.3,560.5 1013.2,553.0C1014.0,545.5 1014.8,533.0 1015.5,523.0C1016.2,513.1 1016.8,502.0 1017.5,493.1C1018.2,484.2 1019.0,475.5 1019.8,469.8C1020.7,464.2 1021.5,461.7 1022.5,459.2C1023.5,456.7 1024.7,455.7 1025.8,454.9C1026.9,454.0 1028.2,453.0 1029.2,453.9C1030.1,454.7 1030.7,456.3 1031.5,459.8C1032.3,463.3 1032.9,470.8 1033.8,474.8C1034.8,478.8 1036.1,481.7 1037.1,483.8C1038.1,485.8 1038.9,487.5 1039.8,487.1C1040.7,486.7 1041.5,485.2 1042.5,481.5C1043.5,477.7 1044.8,469.8 1045.8,464.8C1046.8,459.8 1047.7,454.3 1048.5,451.5C1049.2,448.8 1049.8,447.8 1050.4,448.2C1051.1,448.6 1051.8,450.2 1052.4,453.9C1053.1,457.5 1053.3,464.4 1054.1,469.8C1054.9,475.3 1056.1,481.7 1057.1,486.5C1058.2,491.2 1059.2,494.8 1060.4,498.1C1061.7,501.4 1063.5,504.8 1064.8,506.4C1066.0,508.1 1066.8,508.2 1068.1,508.1C1069.4,508.0 1070.9,506.5 1072.4,505.7C1073.9,505.0 1075.9,505.3 1077.1,503.8C1078.3,502.2 1078.9,498.8 1079.7,496.4C1080.6,494.1 1081.3,490.3 1082.1,489.8C1082.8,489.2 1083.3,490.9 1084.1,493.1C1084.8,495.3 1085.7,501.0 1086.4,503.1C1087.1,505.2 1087.7,506.3 1088.4,505.7C1089.1,505.2 1089.7,502.4 1090.4,499.8C1091.0,497.1 1091.4,492.6 1092.4,489.8C1093.4,487.0 1095.0,484.8 1096.4,483.1C1097.7,481.5 1099.0,480.6 1100.4,479.8C1101.8,479.0 1103.6,479.9 1104.7,478.1C1105.8,476.4 1106.2,471.8 1107.0,469.2C1107.9,466.5 1108.8,462.5 1109.7,462.2C1110.6,461.8 1111.2,463.7 1112.3,467.2C1113.5,470.7 1115.1,477.4 1116.3,483.1C1117.6,488.8 1118.4,494.8 1119.7,501.4C1120.9,508.1 1122.3,515.0 1123.7,523.0C1125.0,531.1 1126.5,540.2 1128.0,549.7C1129.4,559.1 1130.9,570.7 1132.3,579.6C1133.7,588.5 1135.1,597.1 1136.3,602.9C1137.5,608.7 1138.6,612.0 1139.6,614.5C1140.6,617.0 1141.3,617.7 1142.3,617.9C1143.3,618.0 1144.5,617.5 1145.6,615.5C1146.7,613.6 1147.8,611.1 1149.0,606.2C1150.1,601.3 1151.3,593.7 1152.3,586.3C1153.3,578.8 1154.0,568.2 1154.9,561.3C1155.9,554.4 1156.7,549.7 1157.9,544.7C1159.2,539.7 1160.8,535.0 1162.3,531.4C1163.8,527.8 1165.4,525.1 1166.9,523.0C1168.4,521.0 1170.0,520.1 1171.2,519.1C1172.5,518.1 1173.6,518.6 1174.6,517.1C1175.6,515.5 1176.3,511.5 1177.2,509.7C1178.2,508.0 1179.3,506.1 1180.2,506.4C1181.2,506.7 1181.9,508.4 1182.9,511.4C1183.9,514.5 1185.2,520.7 1186.2,524.7C1187.2,528.8 1188.1,533.6 1188.9,535.7C1189.7,537.8 1190.4,537.7 1191.2,537.4C1192.0,537.0 1192.7,534.5 1193.5,533.7C1194.4,532.9 1195.3,531.6 1196.2,532.4C1197.1,533.1 1198.0,536.4 1198.9,538.0C1199.8,539.7 1200.6,542.3 1201.5,542.3C1202.5,542.3 1203.5,541.0 1204.5,538.0C1205.6,535.1 1206.7,529.7 1207.9,524.7C1209.0,519.7 1209.9,513.1 1211.2,508.1C1212.5,503.1 1214.1,498.7 1215.5,494.8C1216.9,490.9 1218.2,488.4 1219.5,484.8C1220.8,481.2 1222.3,476.6 1223.5,473.1C1224.7,469.7 1225.8,465.6 1226.8,463.8C1227.8,462.1 1228.6,461.9 1229.5,462.5C1230.4,463.1 1231.1,466.6 1232.1,467.2C1233.1,467.7 1234.5,466.8 1235.5,465.8C1236.4,464.9 1237.0,462.3 1237.8,461.5C1238.6,460.7 1239.4,459.5 1240.1,460.8C1240.9,462.2 1241.4,466.1 1242.1,469.8C1242.9,473.5 1243.3,479.2 1244.5,483.1C1245.6,487.0 1247.5,489.5 1248.8,493.1C1250.1,496.7 1251.0,501.5 1252.1,504.8C1253.2,508.0 1254.1,510.8 1255.4,512.4C1256.8,514.0 1258.8,513.4 1260.1,514.1C1261.4,514.7 1262.3,514.6 1263.4,516.4C1264.5,518.2 1265.8,521.4 1266.8,524.7C1267.8,528.0 1268.5,533.7 1269.4,536.4C1270.3,539.0 1271.1,540.1 1272.1,540.3C1273.1,540.6 1274.3,539.5 1275.4,538.0C1276.5,536.5 1277.6,535.0 1278.7,531.4C1279.8,527.8 1281.0,521.7 1282.1,516.4C1283.2,511.1 1284.2,505.6 1285.4,499.8C1286.6,493.9 1288.1,486.7 1289.4,481.5C1290.7,476.2 1292.0,472.0 1293.4,468.2C1294.8,464.3 1296.4,460.4 1297.7,458.2C1299.0,456.0 1299.9,455.6 1301.0,454.9C1302.1,454.1 1303.4,455.8 1304.4,453.9C1305.3,451.9 1306.0,447.5 1306.7,443.2C1307.4,438.9 1307.9,432.1 1308.7,428.2C1309.5,424.4 1310.4,421.7 1311.3,419.9C1312.3,418.1 1313.4,417.1 1314.3,417.3C1315.3,417.4 1316.2,419.1 1317.0,420.6C1317.8,422.1 1318.5,422.6 1319.3,426.3C1320.1,430.0 1320.9,436.8 1321.6,442.9C1322.4,449.0 1323.1,458.7 1324.0,462.9C1324.8,467.0 1325.5,466.9 1326.6,467.9C1327.7,468.9 1329.4,467.9 1330.6,468.9C1331.8,469.8 1333.1,472.4 1333.9,473.5C1334.8,474.6 1335.2,476.2 1335.9,475.5C1336.7,474.8 1337.7,472.2 1338.6,469.5C1339.5,466.9 1340.4,462.9 1341.6,459.5C1342.8,456.2 1344.7,454.0 1345.9,449.6C1347.1,445.1 1348.0,441.8 1348.9,432.9C1349.9,424.1 1350.7,407.4 1351.6,396.3C1352.5,385.2 1353.3,374.4 1354.2,366.4C1355.2,358.4 1356.0,353.1 1357.2,348.1C1358.5,343.1 1360.3,340.9 1361.6,336.5C1362.8,332.0 1363.8,325.4 1364.9,321.5C1366.0,317.6 1366.9,314.9 1368.2,313.2C1369.5,311.4 1371.2,310.7 1372.5,310.8C1373.9,310.9 1375.3,311.8 1376.5,313.8C1377.8,315.9 1378.8,318.3 1379.9,323.1C1381.0,328.0 1382.1,335.9 1383.2,343.1C1384.3,350.3 1385.4,361.1 1386.5,366.4C1387.6,371.7 1388.7,373.0 1389.9,374.7C1391.0,376.4 1392.1,376.7 1393.2,376.4C1394.3,376.1 1395.6,375.8 1396.5,373.0C1397.4,370.3 1397.8,363.9 1398.5,359.7C1399.2,355.6 1399.8,350.9 1400.8,348.1C1401.9,345.3 1403.3,344.5 1404.8,343.1C1406.3,341.7 1408.2,341.4 1409.8,339.8C1411.5,338.1 1413.3,336.0 1414.8,333.1C1416.4,330.2 1417.9,324.9 1419.1,322.5C1420.4,320.1 1421.2,318.2 1422.1,318.8C1423.1,319.5 1424.0,323.0 1424.8,326.5C1425.6,330.0 1426.2,336.7 1427.1,339.8C1428.1,342.8 1429.3,343.1 1430.4,344.8C1431.6,346.4 1432.9,346.7 1433.8,349.8C1434.7,352.8 1435.1,356.4 1435.8,363.1C1436.5,369.7 1437.3,381.9 1438.1,389.7C1438.9,397.4 1439.5,403.0 1440.4,409.6C1441.4,416.3 1442.5,424.1 1443.8,429.6C1445.0,435.1 1446.6,438.5 1448.1,442.9C1449.5,447.3 1451.0,451.2 1452.4,456.2C1453.8,461.2 1455.3,468.3 1456.4,472.8C1457.5,477.4 1458.2,481.6 1459.1,483.5C1459.9,485.4 1460.6,485.7 1461.4,484.5C1462.2,483.3 1462.9,478.3 1463.7,476.2C1464.6,474.1 1465.4,472.0 1466.4,471.8C1467.4,471.7 1468.6,474.0 1469.7,475.5C1470.8,477.1 1471.9,479.1 1473.0,481.2C1474.2,483.2 1475.4,488.1 1476.4,487.8C1477.3,487.5 1478.0,483.7 1478.7,479.5C1479.4,475.3 1479.6,467.0 1480.4,462.9C1481.1,458.7 1481.8,457.3 1483.0,454.6C1484.3,451.8 1486.4,449.3 1488.0,446.2C1489.7,443.2 1491.3,440.1 1493.0,436.3C1494.7,432.4 1496.5,426.9 1498.0,422.9C1499.6,419.0 1501.1,416.7 1502.3,412.3C1503.6,407.9 1504.5,402.9 1505.7,396.3C1506.8,389.8 1507.8,380.5 1509.0,373.0C1510.2,365.6 1511.8,358.1 1513.0,351.4C1514.2,344.8 1515.3,337.6 1516.3,333.1C1517.3,328.7 1518.0,326.3 1519.0,324.8C1519.9,323.3 1521.0,323.9 1522.0,324.1C1523.0,324.4 1524.0,327.5 1525.0,326.5C1526.0,325.5 1526.8,320.9 1528.0,318.2C1529.1,315.4 1530.7,311.5 1531.9,309.8C1533.2,308.2 1534.6,307.3 1535.6,308.2C1536.6,309.0 1537.3,311.2 1537.9,314.8C1538.6,318.4 1538.8,326.2 1539.6,329.8C1540.4,333.4 1541.7,334.4 1542.9,336.5C1544.1,338.5 1545.5,339.1 1546.9,342.1C1548.3,345.2 1550.0,350.1 1551.2,354.8C1552.5,359.4 1553.5,364.7 1554.6,369.7C1555.7,374.7 1556.5,380.0 1557.9,384.7C1559.3,389.4 1561.2,393.6 1562.9,398.0C1564.6,402.4 1566.3,406.6 1567.9,411.3C1569.4,416.0 1570.7,422.1 1572.2,426.3C1573.7,430.4 1575.4,433.5 1576.9,436.3C1578.4,439.0 1580.0,441.1 1581.2,442.9C1582.4,444.7 1583.0,447.7 1583.9,446.9C1584.7,446.1 1585.4,441.2 1586.2,437.9C1587.0,434.6 1587.7,429.3 1588.9,426.9C1590.0,424.6 1591.6,425.7 1592.8,423.9C1594.1,422.2 1595.3,420.3 1596.2,416.3C1597.1,412.2 1597.3,403.7 1598.2,399.7C1599.0,395.6 1599.9,393.9 1601.2,392.0C1602.4,390.1 1604.1,390.6 1605.5,388.0C1606.9,385.4 1608.3,381.4 1609.5,376.4C1610.7,371.4 1611.8,363.1 1612.8,358.1C1613.8,353.1 1614.4,348.9 1615.5,346.4C1616.6,343.9 1618.2,343.6 1619.5,343.1C1620.7,342.7 1621.8,342.9 1622.8,343.8C1623.8,344.6 1624.6,347.1 1625.5,348.1C1626.3,349.1 1627.0,351.1 1627.8,349.8C1628.6,348.4 1629.3,342.4 1630.1,339.8C1630.9,337.1 1631.7,334.7 1632.8,333.8C1633.9,332.8 1635.6,334.5 1636.8,334.1C1638.0,333.7 1638.8,333.6 1640.1,331.5C1641.4,329.4 1642.9,325.6 1644.4,321.5C1646.0,317.3 1647.8,311.8 1649.4,306.5C1651.1,301.2 1653.0,294.0 1654.4,289.9C1655.8,285.7 1656.7,283.3 1657.7,281.6C1658.7,279.8 1659.3,279.0 1660.4,279.2C1661.5,279.5 1663.2,281.2 1664.4,283.2C1665.6,285.3 1666.8,289.0 1667.7,291.5C1668.7,294.0 1669.2,297.4 1670.0,298.2C1670.9,299.0 1671.7,297.4 1672.7,296.5C1673.7,295.7 1675.1,292.4 1676.0,293.2C1677.0,294.0 1677.5,296.0 1678.4,301.5C1679.2,307.1 1680.0,318.2 1681.0,326.5C1682.0,334.8 1683.1,343.7 1684.4,351.4C1685.6,359.2 1687.3,366.9 1688.7,373.0C1690.1,379.1 1691.3,384.3 1692.7,388.0C1694.0,391.7 1695.3,395.6 1696.7,395.3C1698.0,395.1 1699.5,389.1 1700.6,386.3C1701.7,383.6 1702.3,380.7 1703.3,379.0C1704.3,377.4 1705.5,377.9 1706.6,376.4C1707.7,374.8 1709.0,374.1 1710.0,369.7C1710.9,365.3 1711.6,357.5 1712.6,349.7C1713.6,342.0 1714.8,331.2 1715.9,323.1C1717.0,315.1 1718.0,307.9 1719.3,301.5C1720.5,295.1 1721.9,289.6 1723.3,284.9C1724.6,280.2 1726.1,275.7 1727.3,273.2C1728.4,270.7 1729.0,269.6 1729.9,269.9C1730.8,270.2 1731.6,271.8 1732.6,274.9C1733.6,277.9 1734.7,284.3 1735.9,288.2C1737.1,292.1 1738.6,296.1 1739.9,298.2C1741.2,300.2 1742.7,299.4 1743.9,300.5C1745.1,301.6 1746.3,301.1 1747.2,304.8C1748.1,308.6 1748.5,315.4 1749.2,323.1C1749.9,330.9 1750.6,344.2 1751.5,351.4C1752.5,358.6 1753.8,361.4 1754.9,366.4C1756.0,371.4 1757.1,376.9 1758.2,381.3C1759.3,385.8 1760.4,390.8 1761.5,393.0C1762.6,395.2 1763.7,394.5 1764.9,394.7C1766.0,394.8 1767.1,392.8 1768.2,393.7C1769.3,394.5 1770.4,396.4 1771.5,399.6C1772.6,402.9 1773.7,406.3 1774.8,412.9C1776.0,419.6 1777.1,430.4 1778.2,439.6C1779.3,448.7 1780.4,459.0 1781.5,467.8C1782.6,476.7 1783.9,485.9 1784.8,492.8C1785.8,499.7 1786.3,506.0 1787.2,509.4C1788.0,512.9 1788.9,514.5 1789.8,513.4C1790.7,512.3 1791.5,508.4 1792.5,502.8C1793.5,497.1 1794.8,485.9 1795.8,479.5C1796.8,473.1 1797.7,467.6 1798.5,464.5C1799.2,461.5 1799.7,460.1 1800.5,461.2C1801.2,462.3 1802.1,467.6 1803.1,471.2C1804.1,474.8 1805.3,480.0 1806.5,482.8C1807.6,485.6 1808.8,487.2 1809.8,487.8C1810.8,488.4 1811.7,489.7 1812.4,486.1C1813.2,482.5 1813.6,477.3 1814.1,466.2C1814.7,455.1 1815.1,431.2 1815.8,419.6C1816.4,408.0 1817.2,403.0 1818.1,396.3C1819.0,389.7 1820.3,384.1 1821.4,379.7C1822.5,375.2 1823.8,371.6 1824.8,369.7C1825.7,367.8 1826.3,367.5 1827.1,368.0C1827.9,368.6 1828.6,371.1 1829.8,373.0C1830.9,375.0 1832.5,378.0 1833.7,379.7C1835.0,381.3 1836.1,383.3 1837.1,383.0C1838.1,382.7 1838.9,381.6 1839.7,378.0C1840.6,374.4 1841.2,365.3 1842.1,361.4C1842.9,357.5 1843.7,356.3 1844.7,354.7C1845.7,353.2 1847.1,351.8 1848.1,352.1C1849.0,352.3 1849.7,353.5 1850.4,356.4C1851.1,359.3 1851.7,366.7 1852.4,369.7C1853.0,372.8 1853.7,375.5 1854.4,374.7C1855.0,373.9 1855.5,368.6 1856.4,364.7C1857.3,360.8 1858.3,355.1 1859.7,351.4C1861.1,347.7 1863.0,344.8 1864.7,342.4C1866.4,340.0 1868.4,339.8 1869.7,337.1C1871.0,334.4 1871.5,330.0 1872.3,326.5C1873.2,322.9 1874.2,316.9 1875.0,315.8C1875.8,314.7 1876.5,317.7 1877.3,319.8C1878.2,321.9 1879.1,325.8 1880.3,328.1C1881.6,330.4 1883.2,331.8 1884.7,333.8C1886.1,335.7 1887.8,338.7 1889.0,339.8C1890.1,340.9 1890.9,341.5 1891.6,340.4C1892.4,339.3 1892.9,338.2 1893.6,333.1C1894.4,328.0 1895.4,317.0 1896.3,309.8C1897.2,302.6 1898.1,294.9 1899.0,289.9C1899.9,284.9 1900.9,281.7 1901.6,279.9C1902.4,278.1 1902.9,277.8 1903.6,279.2C1904.4,280.6 1905.4,283.7 1906.3,288.2C1907.2,292.7 1908.1,300.1 1909.0,306.5C1909.8,312.9 1910.4,321.9 1911.3,326.5C1912.1,331.1 1912.8,332.6 1913.9,334.1C1915.1,335.7 1916.4,335.7 1917.9,335.8C1919.4,335.9 1921.5,335.5 1922.9,334.8C1924.3,334.0 1925.3,332.9 1926.3,331.4C1927.3,329.9 1928.0,326.9 1928.9,325.8C1929.8,324.7 1930.6,324.5 1931.6,324.8C1932.6,325.1 1933.9,325.2 1934.9,327.5C1935.9,329.7 1936.7,335.5 1937.6,338.1C1938.5,340.7 1939.2,343.1 1940.2,343.1C1941.2,343.1 1942.5,341.1 1943.6,338.1C1944.7,335.0 1945.6,330.1 1946.9,324.8C1948.2,319.5 1949.8,312.6 1951.2,306.5C1952.7,300.4 1954.2,293.6 1955.5,288.2C1956.9,282.8 1958.3,276.8 1959.5,273.9C1960.8,271.0 1961.8,271.0 1962.9,270.9C1964.0,270.8 1965.1,271.7 1966.2,273.2C1967.3,274.7 1968.4,276.0 1969.5,279.9C1970.6,283.8 1971.8,289.3 1972.8,296.5C1973.8,303.7 1974.7,316.8 1975.5,323.1C1976.3,329.5 1976.9,332.1 1977.8,334.8C1978.8,337.4 1980.1,338.3 1981.2,339.1C1982.3,339.9 1983.5,340.5 1984.5,339.8C1985.4,339.0 1986.1,336.0 1986.8,334.8C1987.5,333.5 1988.1,331.6 1988.8,332.1C1989.5,332.7 1990.2,335.7 1991.1,338.1C1992.1,340.5 1993.4,344.2 1994.5,346.4C1995.6,348.6 1996.9,350.4 1997.8,351.4C1998.7,352.4 1999.2,354.4 2000.1,352.4C2001.1,350.4 2002.5,346.2 2003.5,339.6C2004.5,333.1 2005.3,323.6 2006.1,313.0C2007.0,302.5 2007.5,287.0 2008.5,276.4C2009.4,265.9 2010.4,257.6 2011.8,249.8C2013.2,242.1 2015.1,235.0 2016.8,229.9C2018.5,224.8 2020.1,221.8 2021.8,219.2C2023.4,216.6 2025.4,213.6 2026.8,214.2C2028.2,214.9 2029.0,218.9 2030.1,223.2C2031.2,227.5 2032.4,233.2 2033.4,239.8C2034.4,246.5 2035.0,256.5 2036.1,263.1C2037.2,269.8 2038.9,274.2 2040.1,279.8C2041.3,285.3 2042.5,289.2 2043.4,296.4C2044.4,303.6 2044.9,316.6 2045.7,323.0C2046.6,329.4 2047.4,331.8 2048.4,334.7C2049.4,337.5 2050.7,339.5 2051.7,340.3C2052.7,341.1 2053.7,342.0 2054.4,339.6C2055.1,337.3 2055.5,331.0 2056.1,326.3C2056.6,321.6 2056.8,314.6 2057.7,311.4C2058.7,308.1 2060.2,308.1 2061.7,307.0C2063.2,305.9 2065.3,305.7 2066.7,304.7C2068.1,303.8 2069.1,304.4 2070.0,301.4C2071.0,298.3 2071.7,293.9 2072.4,286.4C2073.0,278.9 2073.3,264.0 2074.0,256.5C2074.8,249.0 2075.7,245.7 2076.7,241.5C2077.7,237.3 2078.9,235.0 2080.0,231.5C2081.1,228.0 2082.3,222.9 2083.3,220.5C2084.3,218.2 2085.1,216.8 2086.0,217.2C2087.0,217.7 2088.0,219.4 2089.0,223.2C2090.1,227.0 2091.2,234.0 2092.3,239.8C2093.4,245.7 2094.6,252.9 2095.7,258.1C2096.8,263.4 2097.9,268.0 2099.0,271.4C2100.0,274.9 2101.1,278.8 2102.0,278.8C2102.9,278.8 2103.5,274.3 2104.3,271.4C2105.1,268.6 2106.1,263.3 2107.0,261.5C2107.9,259.6 2108.7,259.9 2109.6,260.5C2110.5,261.0 2111.5,263.9 2112.3,264.8C2113.1,265.7 2113.5,266.7 2114.3,265.8C2115.1,264.8 2116.0,261.0 2117.0,259.1C2117.9,257.3 2118.8,255.8 2120.0,254.8C2121.1,253.8 2122.9,254.8 2123.9,253.1C2125.0,251.5 2125.6,248.7 2126.3,244.8C2127.0,240.9 2127.4,234.3 2128.3,229.9C2129.2,225.4 2130.4,221.5 2131.6,218.2C2132.8,214.9 2134.2,212.7 2135.6,209.9C2137.0,207.1 2138.6,204.6 2139.9,201.6C2141.2,198.5 2142.3,194.7 2143.2,191.6C2144.2,188.6 2145.2,184.7 2145.6,183.3" fill="none" stroke="#f2bc3b" stroke-width="4" stroke-linejoin="round" stroke-linecap="round" clip-path="url(#cp)"/>
<line x1="174" y1="185" x2="174" y2="860" stroke="#303138" stroke-width="2"/>
<line x1="173" y1="859" x2="2149" y2="859" stroke="#303138" stroke-width="2"/>
<text transform="translate(58.3,521.3) rotate(-90)" text-anchor="middle" class="ytitle">EH/s</text>
</svg>
<div class="title"><span class="w1">Network</span> <span class="w2">Hashrate</span></div>
<div class="select"><span>SMA 7 days</span><svg width="30" height="20" viewBox="0 0 30 20"><path d="M6.5,4.5 L14.5,12.5 L22.5,4.5" fill="none" stroke="#85878f" stroke-width="2.6" stroke-linecap="round" stroke-linejoin="round"/></svg></div>
<div class="range">
<div style="left:12.7px;width:62px;letter-spacing:-1.2px">1D</div>
<div style="left:91px;width:62px">7D</div>
<div style="left:168.6px;width:66px;letter-spacing:-0.6px">1M</div>
<div style="left:250.5px;width:70px;letter-spacing:1.2px">3M</div>
<div class="on" style="left:327px;width:75px"><span style="letter-spacing:-1.2px;margin-left:-2.8px">1Y</span></div>
<div style="left:410px;width:62px">5Y</div>
<div style="left:489px;width:76px">ALL</div>
</div>
<div class="ib" style="left:1976px"><svg width="80" height="80" viewBox="0 0 80 80">
<g fill="none" stroke="#ffffff" stroke-width="2.5">
<circle cx="48.05" cy="30.6" r="3.95"/><circle cx="31.8" cy="39.9" r="3.95"/><circle cx="48.05" cy="49.3" r="3.95"/>
<path d="M35.3,37.9 L44.6,32.6 M35.3,41.9 L44.6,47.3"/></g></svg></div>
<div class="ib" style="left:2072px"><svg width="80" height="80" viewBox="0 0 80 80">
<rect x="28.95" y="29.8" width="26.2" height="26.4" rx="5.2" fill="#ffffff"/>
<rect x="34.5" y="25.6" width="15.1" height="9.8" rx="4.6" fill="#2c2d33"/>
<rect x="35.7" y="26.8" width="12.7" height="7.4" rx="3.4" fill="#ffffff"/>
<path d="M47.3,50.1 L37.9,40.8" stroke="#2c2d33" stroke-width="2.1" fill="none"/>
<path d="M43,40.2 H37.2 V45.9" stroke="#2c2d33" stroke-width="1.9" fill="none"/>
</svg></div>
<div class="ib" style="left:2168px"><svg width="80" height="80" viewBox="0 0 80 80">
<path d="M26.05,35 V26.05 H35 M43,26.05 H51.95 V35 M51.95,43 V51.95 H43 M35,51.95 H26.05 V43" fill="none" stroke="#ffffff" stroke-width="4.3"/>
</svg></div>
</body></html>
